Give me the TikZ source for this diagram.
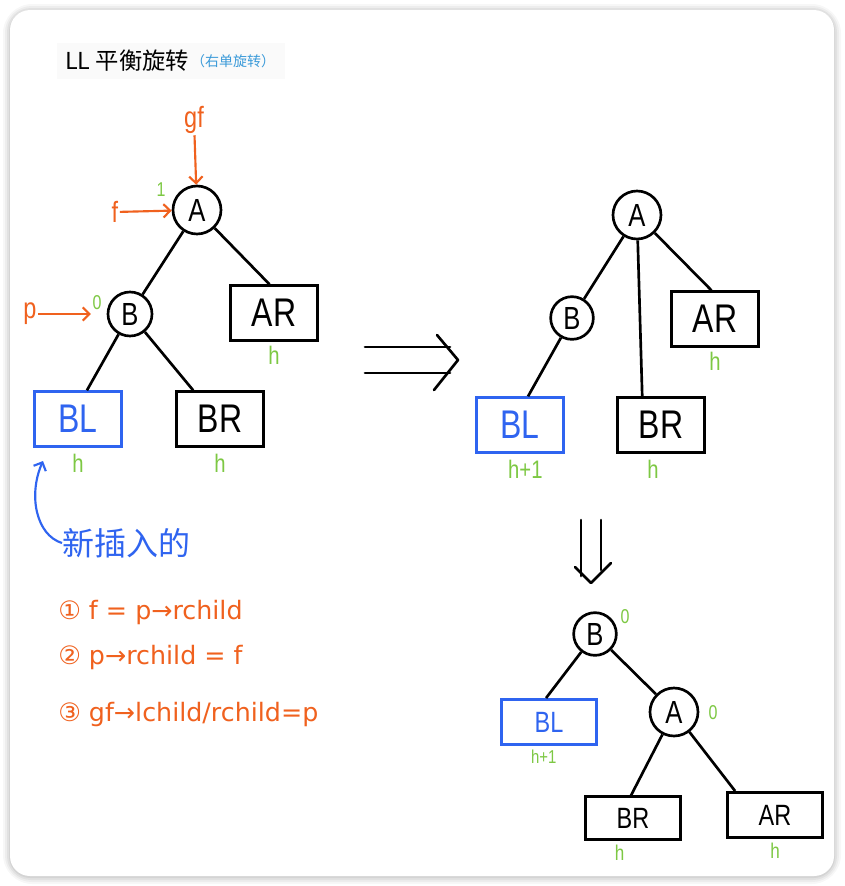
\documentclass[tikz,border=0pt]{standalone}
\usepackage{fontspec}
\setmainfont{Liberation Sans}
\newfontfamily\handfont[FakeStretch=0.8]{Liberation Sans}
\newfontfamily\symfont{DejaVu Sans}
\newfontfamily\cjkfont{Noto Sans CJK SC}
\usetikzlibrary{arrows.meta, positioning, calc}
\definecolor{pen}{HTML}{F0611E}
\definecolor{hgt}{HTML}{7DC843}
\definecolor{newc}{HTML}{2F64F0}
\definecolor{titleblue}{HTML}{3A9AD9}

\begin{document}
\begin{tikzpicture}[x=0.75pt, y=-0.75pt,
    circ/.style={circle, draw, line width=2pt, minimum size=36pt, inner sep=0pt,
                 font=\handfont\fontsize{24}{24}\selectfont},
    leaf/.style={rectangle, draw, line width=2pt, minimum width=65pt, minimum height=41pt,
                 inner sep=0pt, font=\handfont\fontsize{30}{30}\selectfont},
    smallleaf/.style={leaf, minimum width=71pt, minimum height=34pt,
                 font=\handfont\fontsize{22}{22}\selectfont},
    newleaf/.style={draw=newc, text=newc},
    ht/.style={text=hgt, font=\handfont\fontsize{19}{19}\selectfont, inner sep=1pt},
    bf/.style={text=hgt, font=\handfont\fontsize{15}{15}\selectfont, inner sep=1pt},
    ptr/.style={text=pen, font=\handfont\fontsize{22}{22}\selectfont, inner sep=1pt},
    ptrarr/.style={pen, line width=1.6pt, -{Straight Barb[length=5pt, width=10pt]}},
    edge/.style={line width=2pt},
    fixline/.style={anchor=west, text=pen, font=\symfont\fontsize{19}{19}\selectfont, inner sep=0pt},
    bigarr/.style={line width=2pt, line cap=round, line join=round}]
  \useasboundingbox (0,0) rectangle (844,886);
  % card and its shadow
  \foreach \s/\o in {7/0.03, 5/0.04, 3/0.05, 1/0.06}
    \fill[black, opacity=\o, rounded corners=15+\s] (10-\s,10-\s+1) rectangle (834+\s,876+\s+1);
  \fill[white, rounded corners=15] (10,10) rectangle (834,876);

  % title
  \fill[black!2] (57,43) rectangle (285,79);
  \node[anchor=west, inner sep=0pt, font=\cjkfont\fontsize{17.5}{17.5}\selectfont] (title) at (65,61) {LL 平衡旋转};
  \node[right=1pt of title, inner sep=0pt, text=titleblue, font=\cjkfont\fontsize{10.5}{10.5}\selectfont] (subtitle) {（右单旋转）};

  % before: left tree
  \node[circ] (A1) at (197,210) {A};
  \node[circ, minimum size=33pt] (B1) at (130,314) {B};
  \node[leaf] (AR1) at (274,313) {AR};
  \node[leaf, newleaf] (BL1) at (78,419) {BL};
  \node[leaf] (BR1) at (220,419) {BR};
  \draw[edge] (A1) -- (B1);
  \draw[edge] (A1) -- ($(AR1.north west)!.45!(AR1.north east)$);
  \draw[edge] (B1) -- ($(BL1.north west)!.6!(BL1.north east)$);
  \draw[edge] (B1) -- ($(BR1.north west)!.2!(BR1.north east)$);
  \node[ht, below=2pt of AR1] (hAR1) {h};
  \node[ht, below=4pt of BL1] (hBL1) {h};
  \node[ht, below=4pt of BR1] (hBR1) {h};
  \node[bf] (bfA1) at (161,190) {1};
  \node[bf] (bfB1) at (97,303) {0};
  \node[ptr] (gf) at (194,120) {gf};
  \node[ptr] (f) at (115,212) {f};
  \node[ptr] (p) at (30,314) {p};
  \draw[ptrarr] (gf) -- (A1);
  \draw[ptrarr] (f) -- (A1);
  \draw[ptrarr] (p) -- (p -| bfB1.west);

  % newly inserted
  \node[anchor=west, inner sep=0pt, text=newc, font=\cjkfont\fontsize{24}{24}\selectfont] (newlbl) at (62,543) {新插入的};
  \coordinate (ins) at (43,461);
  \draw[newc, line width=1.6pt, -{Straight Barb[length=5pt, width=10pt]}]
    (newlbl.west) .. controls (36,535) and (28,495) .. (ins);

  % steps
  \node[fixline] (s1) at (58,613) {① f = p→rchild};
  \node[fixline] (s2) at (58,658) {② p→rchild = f};
  \node[fixline] (s3) at (58,715) {③ gf→lchild/rchild=p};

  % arrows between stages
  \draw[bigarr] (365,347) -- (450,347);
  \draw[bigarr] (365,373) -- (450,373);
  \draw[bigarr] (437,335) -- (458,360) -- (434,390);
  \draw[bigarr] (581,520) -- (581,576);
  \draw[bigarr] (601,520) -- (601,570);
  \draw[bigarr] (575,567) -- (591,583) -- (611,563);

  % middle: after inserting
  \node[circ] (A2) at (637,215) {A};
  \node[circ, minimum size=32pt] (B2) at (572,318) {B};
  \node[leaf] (AR2) at (715,319) {AR};
  \node[leaf, newleaf] (BL2) at (520,425) {BL};
  \node[leaf] (BR2) at (661,425) {BR};
  \draw[edge] (A2) -- (B2);
  \draw[edge] (A2) -- ($(AR2.north west)!.46!(AR2.north east)$);
  \draw[edge] (A2) -- ($(BR2.north west)!.29!(BR2.north east)$);
  \draw[edge] (B2) -- ($(BL2.north west)!.59!(BL2.north east)$);
  \node[ht, below=2pt of AR2] (hAR2) {h};
  \node[ht, below=4pt of BL2, xshift=4pt] (hBL2) {h+1};
  \node[ht, below=4pt of BR2, xshift=-6pt] (hBR2) {h};

  % after: rotated tree
  \node[circ, minimum size=32pt] (B3) at (595,634) {B};
  \node[circ] (A3) at (674,712) {A};
  \node[smallleaf, newleaf] (BL3) at (549,722) {BL};
  \node[smallleaf, minimum height=32pt] (BR3) at (633,818) {BR};
  \node[smallleaf] (AR3) at (775,815) {AR};
  \draw[edge] (B3) -- ($(BL3.north west)!.47!(BL3.north east)$);
  \draw[edge] (B3) -- (A3);
  \draw[edge] (A3) -- ($(BR3.north west)!.48!(BR3.north east)$);
  \draw[edge] (A3) -- ($(AR3.north west)!.09!(AR3.north east)$);
  \node[bf] (bfB3) at (625,617) {0};
  \node[bf] (bfA3) at (713,713) {0};
  \node[ht, below=2pt of BL3, xshift=-4pt, font=\handfont\fontsize{14}{14}\selectfont] (hBL3) {h+1};
  \node[ht, below=2pt of BR3, xshift=-10pt, font=\handfont\fontsize{16}{16}\selectfont] (hBR3) {h};
  \node[ht, below=2pt of AR3, font=\handfont\fontsize{16}{16}\selectfont] (hAR3) {h};
\end{tikzpicture}
\end{document}
